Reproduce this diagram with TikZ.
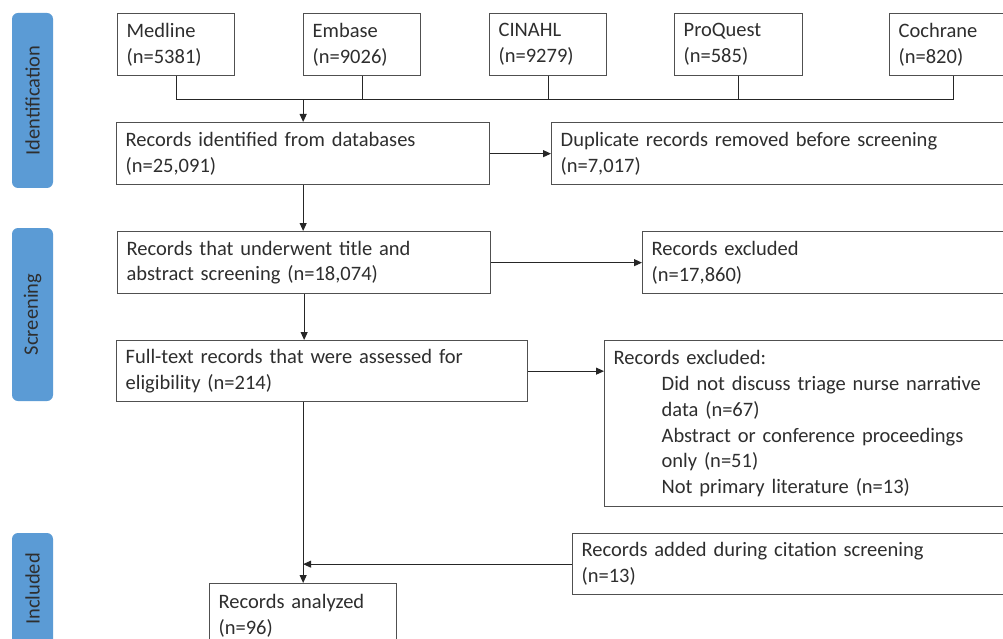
\documentclass[tikz,border=0pt]{standalone}
\usepackage{fontspec}
\setmainfont{Carlito}
\usetikzlibrary{arrows.meta}
\definecolor{labblue}{HTML}{5B9BD5}
\definecolor{boxline}{HTML}{505050}
\definecolor{txt}{HTML}{2E2E2E}
\begin{document}
\begin{tikzpicture}[x=1pt,y=-1pt,
  every node/.style={font=\fontsize{20.5}{25.8}\selectfont, text=txt},
  bx/.style={draw=boxline, line width=1.3pt, anchor=north west, align=left, inner xsep=9pt, inner ysep=0pt},
  lab/.style={fill=labblue, rounded corners=6pt, rotate=90, minimum height=41pt, inner sep=0pt},
  ln/.style={draw=black!85, line width=1pt},
  ar/.style={ln, -{Triangle[length=8pt,width=7pt]}}]
\useasboundingbox (0,0) rectangle (1003,639);
\clip (0,0) rectangle (1003,639);
\fill[white] (0,0) rectangle (1003,639);

% phase labels
\node[lab, minimum width=175pt] (lid) at (32.5,100.5) {Identification};
\node[lab, minimum width=173pt] (lsc) at (32.5,314.5) {Screening};
\node[lab, minimum width=112pt] (lin) at (32.5,589) {Included};

% database boxes
\node[bx, minimum width=117pt, minimum height=62pt, text width=99pt] (med) at (117,13) {Medline\\(n=5381)};
\node[bx, minimum width=117pt, minimum height=62pt, text width=99pt] (emb) at (303,13) {Embase\\(n=9026)};
\node[bx, minimum width=117pt, minimum height=62pt, text width=99pt] (cin) at (489,13) {CINAHL\\(n=9279)};
\node[bx, minimum width=128pt, minimum height=62pt, text width=110pt] (pro) at (674,13) {ProQuest\\(n=585)};
\node[bx, minimum width=128pt, minimum height=62pt, text width=110pt] (coch) at (889,13) {Cochrane\\(n=820)};

% main flow
\node[bx, minimum width=373pt, minimum height=62pt, text width=355pt] (ident) at (116,122) {Records identified from databases\\(n=25,091)};
\node[bx, minimum width=470pt, minimum height=62pt, text width=452pt] (dup) at (551,122) {Duplicate records removed before screening\\(n=7,017)};
\node[bx, minimum width=373pt, minimum height=62pt, text width=355pt] (scr) at (117,231) {Records that underwent title and\\abstract screening (n=18,074)};
\node[bx, minimum width=380pt, minimum height=62pt, text width=362pt] (exa) at (642,231) {Records excluded\\(n=17,860)};
\node[bx, minimum width=411pt, minimum height=61pt, text width=393pt] (full) at (116,340) {Full-text records that were assessed for\\eligibility (n=214)};
\node[bx, minimum width=420pt, minimum height=166pt, text width=402pt] (exb) at (604,340) {Records excluded:\\
\hspace*{48pt}Did not discuss triage nurse narrative\\
\hspace*{48pt}data (n=67)\\
\hspace*{48pt}Abstract or conference proceedings\\
\hspace*{48pt}only (n=51)\\
\hspace*{48pt}Not primary literature (n=13)};
\node[bx, minimum width=450pt, minimum height=61pt, text width=432pt] (add) at (572,533) {Records added during citation screening\\(n=13)};
\node[bx, minimum width=187pt, minimum height=64pt, text width=169pt] (ana) at (209,583) {Records analyzed\\(n=96)};

% connectors
\coordinate (busy) at (0,100);
\draw[ln] (med.south) |- (coch.south |- busy) -- (coch.south);
\foreach \n in {emb,cin,pro} \draw[ln] (\n.south) -- (\n.south |- busy);
\draw[ar] (ident.north |- busy) -- (ident.north);
\draw[ar] (ident.east) -- (dup.west);
\draw[ar] (ident.south) -- (ident.south |- scr.north);
\draw[ar] (scr.east) -- (exa.west);
\draw[ar] (scr.south) -- (scr.south |- full.north);
\draw[ar] (full.east) -- (full.east -| exb.west);
\draw[ar] (ana.north |- full.south) -- (ana.north);
\draw[ar] (add.west) -- (add.west -| ana.north);
\end{tikzpicture}
\end{document}
